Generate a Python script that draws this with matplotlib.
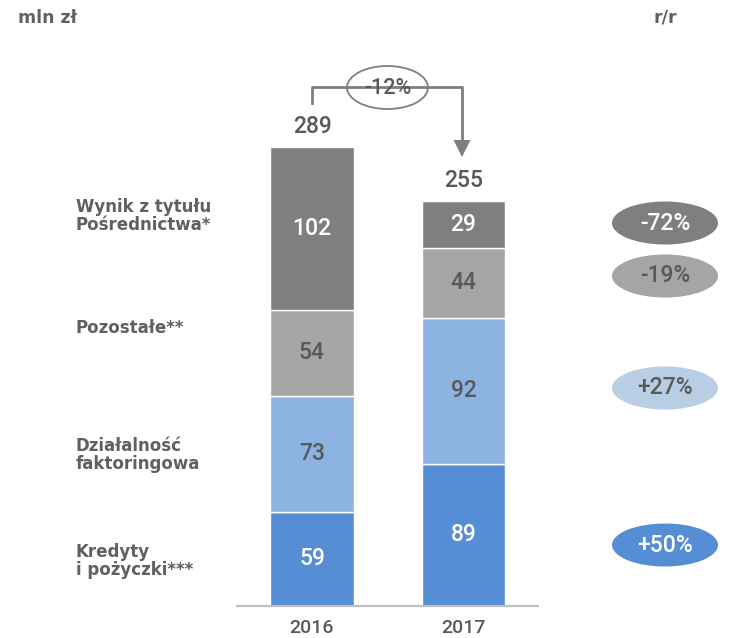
import matplotlib.pyplot as plt
from matplotlib.patches import Ellipse

plt.rcParams['font.family'] = ['Roboto', 'DejaVu Sans']

years = ["2016", "2017"]
categories = ["Kredyty\ni pożyczki***", "Działalność\nfaktoringowa",
              "Pozostałe**", "Wynik z tytułu\nPośrednictwa*"]
kredyty = [59, 89]
faktoring = [73, 92]
pozostale = [54, 44]
posrednictwo = [102, 29]
totals = [289, 255]
total_change = "-12%"
yoy_changes = ["+50%", "+27%", "-19%", "-72%"]

segments = [kredyty, faktoring, pozostale, posrednictwo]
seg_colors = ["#558ed5", "#8db3e2", "#a5a5a5", "#7f7f7f"]
seg_text = ["white", "#595959", "#595959", "white"]
pill_colors = ["#558ed5", "#b9cde5", "#a5a5a5", "#7f7f7f"]
pill_text = ["white", "#595959", "#595959", "white"]
dark = "#595959"
label_font = ["DejaVu Sans"]

W, H = 753, 638
fig = plt.figure(figsize=(W / 100, H / 100), dpi=100)

# bar axes: 151.5 px per bar step, 1.592 px per mln zl, baseline at y=605.7 px
ax = fig.add_axes([0, 0, 1, 1])
ax.set_xlim(-312 / 151.5, (W - 312) / 151.5)
ax.set_ylim(-(H - 605.7) / 1.592, 605.7 / 1.592)
ax.axis("off")

xs = range(len(years))
bottom = [0] * len(years)
for vals, col, tcol in zip(segments, seg_colors, seg_text):
    ax.bar(xs, vals, 0.548, bottom=bottom, color=col, edgecolor="white", linewidth=1)
    for i, v in enumerate(vals):
        ax.text(i, bottom[i] + v / 2, str(v), ha="center", va="center",
                fontsize=16.5, color=tcol, fontweight="medium")
    bottom = [b + v for b, v in zip(bottom, vals)]

for i, t in enumerate(totals):
    ax.text(i, t + 12, str(t), ha="center", va="center", fontsize=16.5,
            color=dark, fontweight="medium")
    ax.text(i, -14, years[i], ha="center", va="center", fontsize=14,
            color=dark, fontweight="medium")

ax.plot([-0.5, 1.5], [0, 0], color="#bfbfbf", lw=1.6, solid_capstyle="butt")

# overlay in pixel coordinates for annotations
ov = fig.add_axes([0, 0, 1, 1])
ov.set_xlim(0, W)
ov.set_ylim(H, 0)
ov.axis("off")
ov.patch.set_alpha(0)

ov.text(18, 18, "mln zł", ha="left", va="center", fontsize=12.5, color="#606060",
        family=label_font, fontweight="bold")
ov.text(665, 18, "r/r", ha="center", va="center", fontsize=12.5, color="#606060",
        family=label_font, fontweight="bold")

label_y = [561, 455, 328, 216]
for lab, y in zip(categories, label_y):
    ov.text(76, y, lab, ha="left", va="center", fontsize=12, color="#606060",
            family=label_font, fontweight="bold", linespacing=1.05)

pill_y = [545, 388, 276, 223]
for txt, y, fc, tc in zip(yoy_changes, pill_y, pill_colors, pill_text):
    ov.add_patch(Ellipse((665, y), 106, 43, facecolor=fc, edgecolor="none"))
    ov.text(665, y, txt, ha="center", va="center", fontsize=16.5, color=tc, fontweight="medium")

# change arrow between the bars
acol = "#7f7f7f"
ov.plot([312, 312, 462, 462], [103, 87, 87, 141], color=acol, lw=2)
ov.fill([453.5, 470.5, 462], [140, 140, 157], color=acol, lw=0)
ov.add_patch(Ellipse((387.5, 87.5), 81, 43, facecolor="white", edgecolor=acol, lw=1.3))
ov.text(387.5, 88, total_change, ha="center", va="center", fontsize=15.5, color=dark,
        fontweight="medium")

fig.savefig("out.png", dpi=100)
